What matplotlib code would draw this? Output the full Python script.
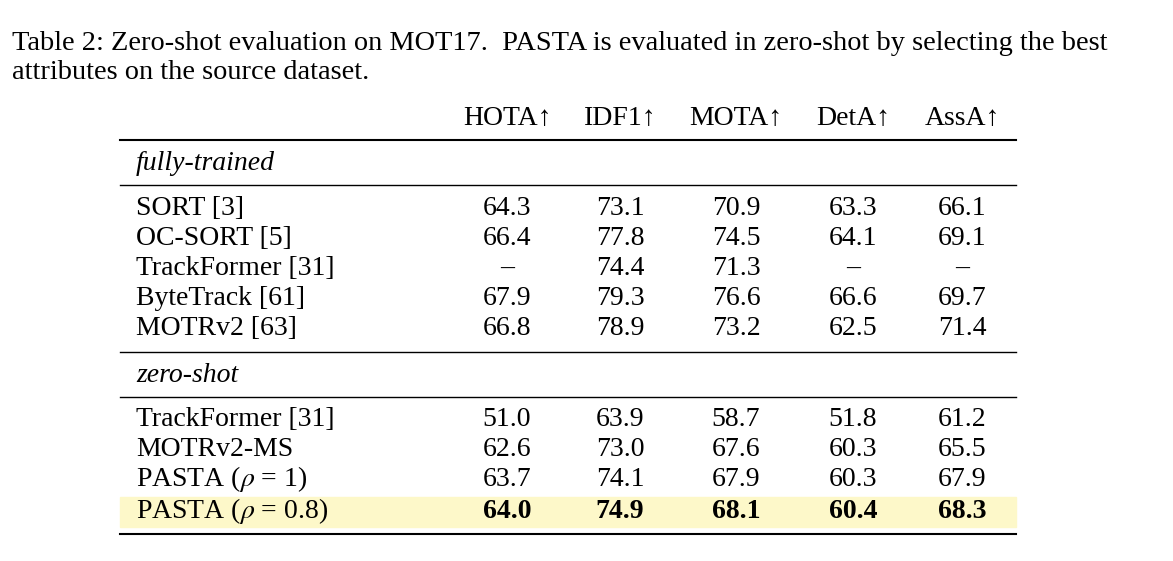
import matplotlib.pyplot as plt
from matplotlib.patches import Rectangle

plt.rcParams['font.family'] = ['Liberation Serif', 'DejaVu Serif']
plt.rcParams['mathtext.fontset'] = 'stix'

W, H = 1173, 561
fs = 20

columns = ['HOTA↑', 'IDF1↑', 'MOTA↑', 'DetA↑', 'AssA↑']
col_x = [507, 620, 736, 853, 962]  # column centres in pixels

fully_trained = [
    ('SORT [3]', ['64.3', '73.1', '70.9', '63.3', '66.1']),
    ('OC-SORT [5]', ['66.4', '77.8', '74.5', '64.1', '69.1']),
    ('TrackFormer [31]', ['–', '74.4', '71.3', '–', '–']),
    ('ByteTrack [61]', ['67.9', '79.3', '76.6', '66.6', '69.7']),
    ('MOTRv2 [63]', ['66.8', '78.9', '73.2', '62.5', '71.4']),
]
zero_shot = [
    ('TrackFormer [31]', ['51.0', '63.9', '58.7', '51.8', '61.2']),
    ('MOTRv2-MS', ['62.6', '73.0', '67.6', '60.3', '65.5']),
    (r'PASTA ($\rho$ = 1)', ['63.7', '74.1', '67.9', '60.3', '67.9']),
    (r'PASTA ($\rho$ = 0.8)', ['64.0', '74.9', '68.1', '60.4', '68.3']),
]

fig = plt.figure(figsize=(W / 100, H / 100), dpi=100)
ax = fig.add_axes([0, 0, 1, 1])
ax.set_xlim(0, W)
ax.set_ylim(H, 0)
ax.axis('off')

# caption
ax.text(12, 43, 'Table 2: Zero-shot evaluation on MOT17.  PASTA is evaluated in zero-shot by selecting the best',
        fontsize=20.4, va='center')
ax.text(12, 72, 'attributes on the source dataset.', fontsize=20.4, va='center')

# header
for x, c in zip(col_x, columns):
    ax.text(x, 118, c, fontsize=fs, ha='center', va='center')

# rules
ax.plot([120, 1016], [140, 140], color='black', lw=1.5)
ax.plot([120, 1016], [185, 185], color='black', lw=1)
ax.plot([120, 1016], [352, 352], color='black', lw=1)
ax.plot([120, 1016], [397, 397], color='black', lw=1)
ax.plot([120, 1016], [534, 534], color='black', lw=1.5)

# highlight of the last row
ax.add_patch(Rectangle((120, 497), 896, 30, color='#fdf8c9', zorder=0))

ax.text(136, 163, 'fully-trained', fontsize=fs, style='italic', va='center')
ax.text(136, 375, 'zero-shot', fontsize=fs, style='italic', va='center')

y = 208
for name, vals in fully_trained:
    ax.text(136, y, name, fontsize=fs, va='center')
    for x, v in zip(col_x, vals):
        ax.text(x, y, v, fontsize=fs, ha='center', va='center')
    y += 30

y = 419
for i, (name, vals) in enumerate(zero_shot):
    bold = i == len(zero_shot) - 1
    if bold:
        y = 511
    ax.text(136, y, name, fontsize=fs, va='center')
    for x, v in zip(col_x, vals):
        ax.text(x, y, v, fontsize=fs, ha='center', va='center',
                weight='bold' if bold else 'normal')
    y += 30

fig.savefig('out.png', dpi=100)
